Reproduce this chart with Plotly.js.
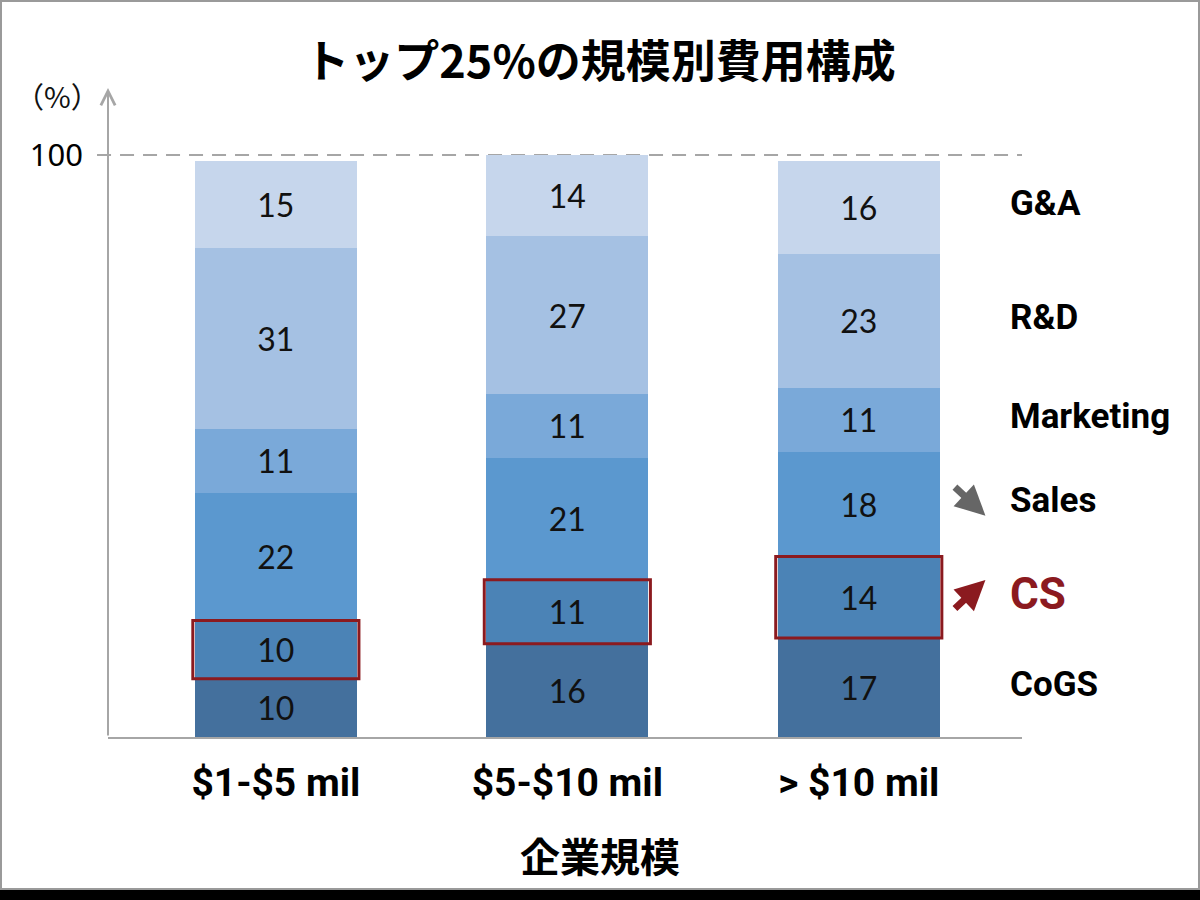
<!DOCTYPE html>
<html>
<head>
<meta charset="utf-8">
<script src="https://cdn.plot.ly/plotly-3.0.1.min.js"></script>
<style>
  html, body { margin: 0; padding: 0; background: #000; }
  #wrap { position: relative; width: 1200px; height: 900px; background: #000; }
  #chart { position: absolute; left: 0; top: 0; width: 1200px; height: 890px; background: #fff; }
  #frame {
    position: absolute; left: 0; top: 0; width: 1200px; height: 890px;
    box-sizing: border-box; border: 2px solid #9a9a9a; pointer-events: none;
  }
</style>
</head>
<body>
<div id="wrap">
  <div id="chart"></div>
  <div id="frame"></div>
</div>
<script>
  // Company size buckets and cost shares (%)
  var sizes = ["$1-$5 mil", "$5-$10 mil", "> $10 mil"];
  var cogs = [10, 16, 17];
  var cs = [10, 11, 14];
  var sales = [22, 21, 18];
  var marketing = [11, 11, 11];
  var rnd = [31, 27, 23];
  var gna = [15, 14, 16];

  var seriesNames = ["CoGS", "CS", "Sales", "Marketing", "R&D", "G&A"];
  var seriesValues = [cogs, cs, sales, marketing, rnd, gna];
  var seriesColors = ["#44709d", "#4b83b6", "#5b98cf", "#7aa9d9", "#a5c1e3", "#c6d6ec"];

  var LABEL_FONT = "Roboto, 'Noto Sans', sans-serif";
  var RED = "#8b1a1f";

  var traces = seriesValues.map(function (vals, i) {
    return {
      type: "bar",
      name: seriesNames[i],
      x: sizes,
      y: vals,
      width: 0.556,
      marker: { color: seriesColors[i], line: { width: 0 } },
      text: vals.map(String),
      textposition: "inside",
      insidetextanchor: "middle",
      textfont: { family: "Lato, 'Open Sans', sans-serif", size: 32, color: "#111" },
      hoverinfo: "skip"
    };
  });

  // Red boxes around the CS segment of each bar
  var shapes = sizes.map(function (s, i) {
    return {
      type: "rect", xref: "x", yref: "y",
      x0: i - 0.285, x1: i + 0.285,
      y0: cogs[i], y1: cogs[i] + cs[i],
      line: { color: RED, width: 3 },
      fillcolor: "rgba(0,0,0,0)"
    };
  });
  // dashed 100% reference line
  shapes.push({
    type: "line", xref: "paper", yref: "y",
    x0: -0.012, x1: 1, y0: 100, y1: 100,
    line: { color: "#a6a6a6", width: 2, dash: "14px,9px" },
    layer: "below"
  });

  // Series names on the right, centred on the last bar's segments
  var last = sizes.length - 1;
  var cum = 0;
  var annotations = seriesNames.map(function (name, i) {
    var v = seriesValues[i][last];
    var mid = cum + v / 2;
    cum += v;
    var isCS = name === "CS";
    return {
      xref: "paper", yref: "y",
      x: 0.985, y: mid + 0.6,
      xanchor: "left", yanchor: "middle",
      text: name, showarrow: false,
      font: {
        family: LABEL_FONT, weight: "bold",
        size: isCS ? 44 : 35,
        color: isCS ? RED : "#000"
      }
    };
  });

  annotations.push(
    // y axis line with arrow head
    {
      xref: "paper", yref: "paper", x: 0, y: 1,
      axref: "pixel", ayref: "pixel", ax: 0, ay: 649,
      showarrow: true, arrowhead: 5, arrowsize: 1.4, arrowwidth: 2,
      arrowcolor: "#a6a6a6", standoff: 0, startstandoff: 0, text: ""
    },
    // Sales trend arrow (down)
    {
      xref: "paper", yref: "paper", x: 0.96, y: 0.341,
      axref: "pixel", ayref: "pixel", ax: -32, ay: -30,
      showarrow: true, arrowhead: 2, arrowsize: 0.85, arrowwidth: 7,
      arrowcolor: "#666666", standoff: 0, text: ""
    },
    // CS trend arrow (up)
    {
      xref: "paper", yref: "paper", x: 0.96, y: 0.242,
      axref: "pixel", ayref: "pixel", ax: -32, ay: 30,
      showarrow: true, arrowhead: 2, arrowsize: 0.85, arrowwidth: 7,
      arrowcolor: RED, standoff: 0, text: ""
    },
    // unit label
    {
      xref: "paper", yref: "paper", x: -0.055, y: 0.989,
      xanchor: "center", yanchor: "middle", showarrow: false,
      text: "（%）",
      font: { family: "'Noto Sans CJK JP', sans-serif", size: 29, color: "#111" }
    },
    // x axis title
    {
      xref: "paper", yref: "paper", x: 0.538, y: -0.182,
      xanchor: "center", yanchor: "middle", showarrow: false,
      text: "企業規模",
      font: { family: "'Noto Sans CJK JP', sans-serif", size: 40, weight: "bold", color: "#000" }
    }
  );

  var layout = {
    width: 1200,
    height: 890,
    paper_bgcolor: "#ffffff",
    plot_bgcolor: "#ffffff",
    barmode: "stack",
    showlegend: false,
    margin: { l: 108, r: 178, t: 88, b: 153 },
    title: {
      text: "トップ25%の規模別費用構成",
      x: 0.5, xanchor: "center",
      y: 1 - 62 / 890, yanchor: "middle", yref: "container",
      font: { family: "'Noto Sans CJK JP', sans-serif", size: 45, weight: "bold", color: "#000" }
    },
    xaxis: {
      type: "category",
      range: [-0.576, 2.56],
      showline: true, linecolor: "#a6a6a6", linewidth: 2,
      showgrid: false, zeroline: false, ticks: "",
      ticklabelstandoff: 10,
      tickfont: { family: LABEL_FONT, size: 39, weight: "bold", color: "#000" },
      fixedrange: true
    },
    yaxis: {
      range: [0, 111.5],
      showline: false, showgrid: false, zeroline: false, ticks: "",
      tickvals: [100], ticktext: ["100"],
      ticklabelstandoff: 24,
      tickfont: { family: "'Noto Sans', sans-serif", size: 31, color: "#000" },
      fixedrange: true
    },
    shapes: shapes,
    annotations: annotations
  };

  Plotly.newPlot("chart", traces, layout, { displayModeBar: false, staticPlot: true });
</script>
</body>
</html>
